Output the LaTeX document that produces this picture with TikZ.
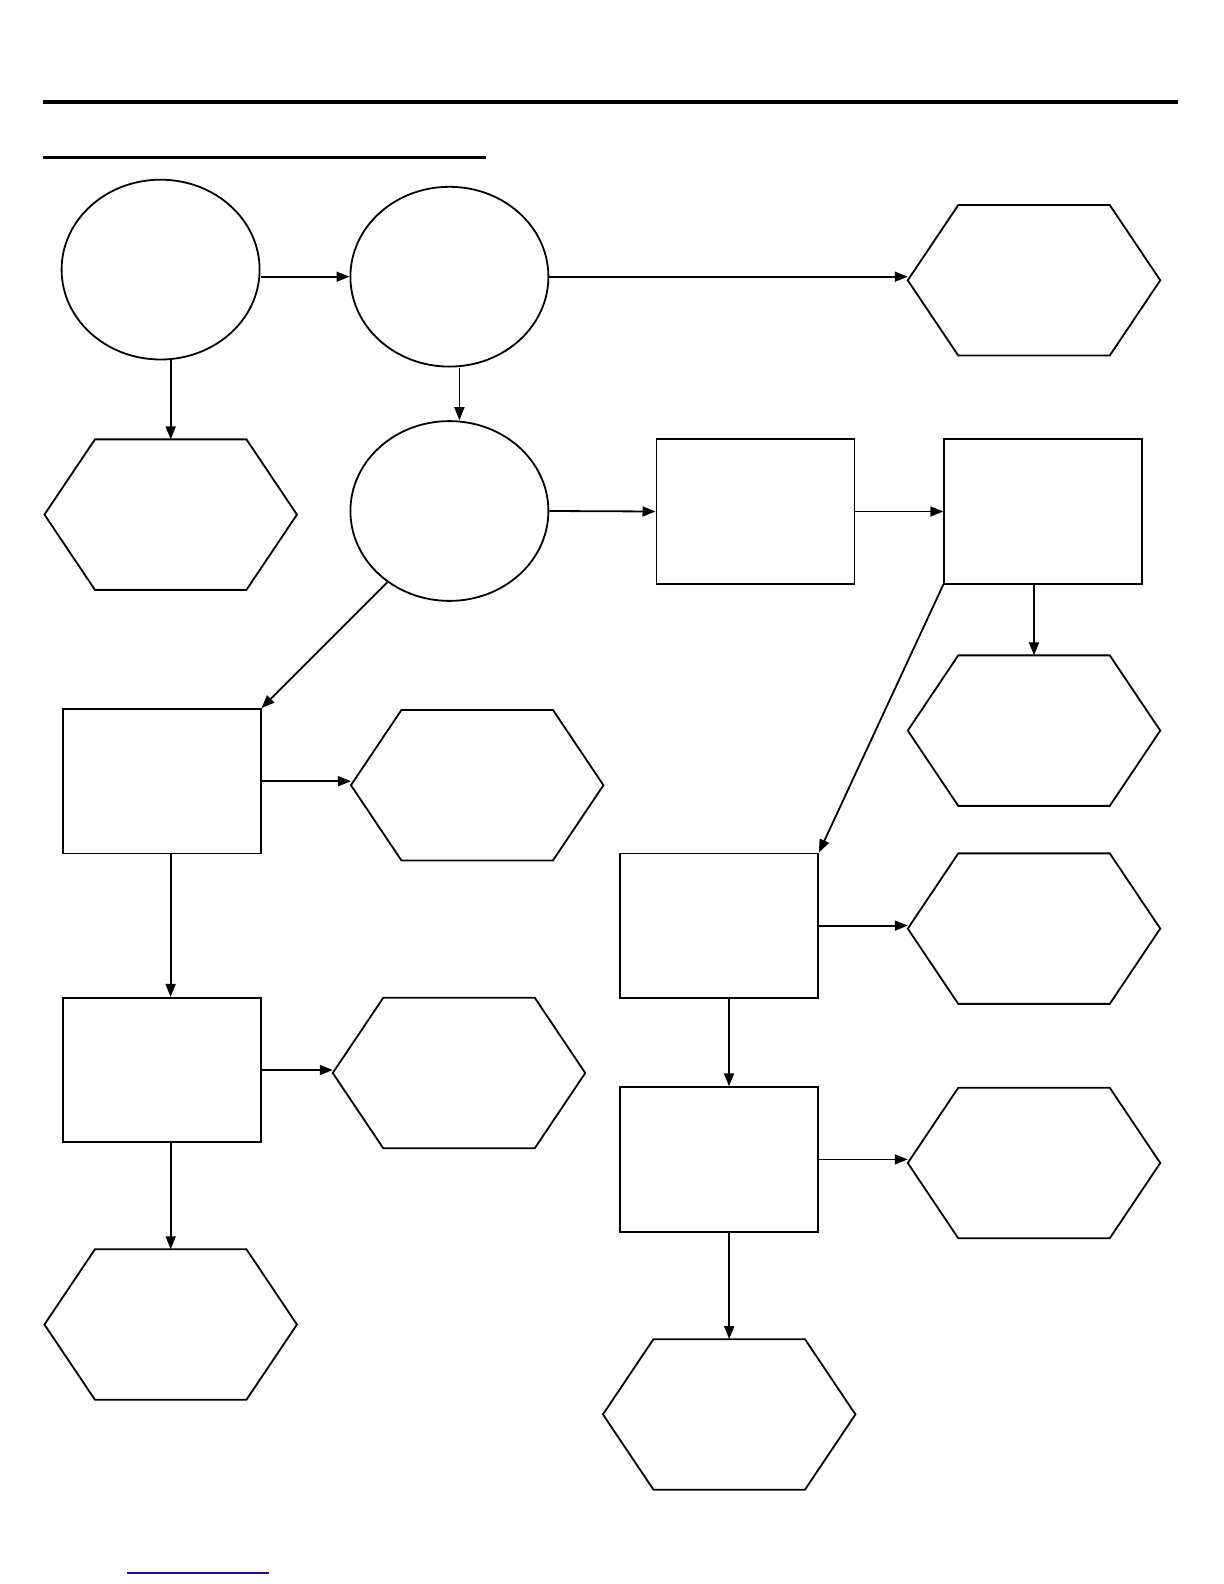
\documentclass[tikz,border=0pt]{standalone}
\usepackage{xcolor}
\usepackage{tikz}
\usetikzlibrary{arrows.meta,positioning,shapes.geometric,calc}
\definecolor{linkblue}{RGB}{20,20,150}

\begin{document}
\begin{tikzpicture}[
  x=0.5pt, y=-0.5pt,
  oval/.style={draw, ellipse, line width=0.9pt, minimum width=99pt, minimum height=89.9pt, inner sep=0pt},
  box/.style={draw, rectangle, line width=0.9pt, minimum width=99pt, minimum height=72.2pt, inner sep=0pt},
  hexbox/.style={rectangle, minimum width=126.25pt, minimum height=75.25pt, inner sep=0pt, outer sep=0pt},
  hexline/.style={line width=0.9pt, line join=miter},
  arrow/.style={-{Triangle[length=6.5pt, width=5pt]}, line width=0.9pt},
]
\useasboundingbox (0,0) rectangle (1224,1584);

\draw[line width=2.2pt] (42.5,102) -- (1178,102);
\draw[line width=1.6pt] (42.5,157.5) -- (486,157.5);
\draw[linkblue, line width=0.7pt] (127,1573) -- (269,1573);

\node[oval] (e1) at (160.6,269.6) {};
\node[oval] (e2) at (449.4,276.7) {};
\node[oval] (e3) at (449.4,511) {};

\node[box] (ra) at (755.4,511.5) {};
\node[box] (rb) at (1043.2,511.5) {};
\node[box] (rc) at (161.6,781.2) {};
\node[box] (rd) at (719,925.6) {};
\node[box] (re) at (161.6,1070) {};
\node[box] (rf) at (719,1159.4) {};

\foreach \name/\x/\y in {h1/1034/280.3, h2/170.7/514.6, h3/1034/730.6, h4/477.2/785.2,
    h5/1034/928.6, h6/459/1073, h7/1034/1163, h8/170.7/1324.5, h9/729.2/1414.4} {
  \node[hexbox] (\name) at (\x,\y) {};
  \draw[hexline] (\name.west) -- ([xshift=25.25pt]\name.north west) -- ([xshift=-25.25pt]\name.north east)
    -- (\name.east) -- ([xshift=-25.25pt]\name.south east) -- ([xshift=25.25pt]\name.south west) -- cycle;
}

\draw[arrow] (e1.east |- e2.west) -- (e2.west);
\draw[arrow] (e1.south -| h2.north) -- (h2.north);
\draw[arrow] (e2.east) -- (e2.east -| h1.west);
\draw[arrow] ([xshift=5pt]e2.south) -- ([xshift=5pt]e3.north);
\draw[arrow] (e3.east) -- (ra.west);
\draw[arrow] (ra.east) -- (rb.west);
\draw[arrow] (rb.south -| h3.north) -- (h3.north);
\draw[arrow] (rb.south west) -- (rd.north east);
\draw[arrow] (e3.229) -- (rc.north east);
\draw[arrow] (rc.east) -- (rc.east -| h4.west);
\draw[arrow] ([xshift=4.5pt]rc.south) -- ([xshift=4.5pt]re.north);
\draw[arrow] (rd.east) -- (rd.east -| h5.west);
\draw[arrow] ([xshift=5pt]rd.south) -- ([xshift=5pt]rf.north);
\draw[arrow] (re.east) -- (re.east -| h6.west);
\draw[arrow] (re.south -| h8.north) -- (h8.north);
\draw[arrow] (rf.east) -- (rf.east -| h7.west);
\draw[arrow] (rf.south -| h9.north) -- (h9.north);

\end{tikzpicture}
\end{document}
